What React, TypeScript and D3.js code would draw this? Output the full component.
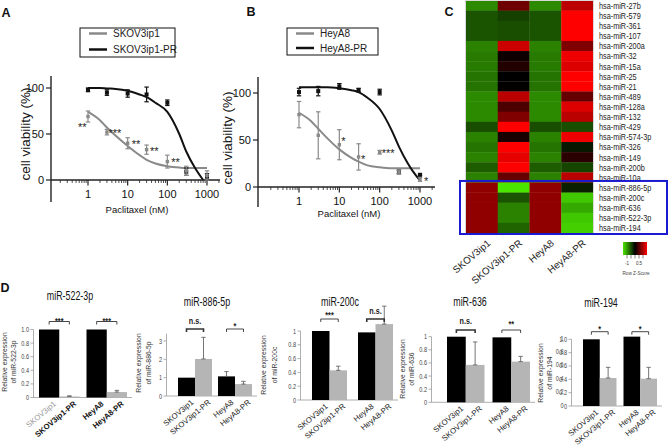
import React from "react";
import * as d3 from "d3";

const FONT = "'Liberation Sans', Arial, Helvetica, sans-serif";

// ---------------- Panels A / B : dose response ----------------
const doses = [1, 3, 10, 30, 100, 300, 1000];
const skovMean = [69, 52, 40, 33, 20, 10, 5];
const skovErr = [6, 3, 6, 5, 7, 5, 5];
const skovPRMean = [98, 95, 94, 93, 84, 9, 4];
const skovPRErr = [2, 3, 4, 8, 3, 4, 3];
const heyMean = [77, 55, 45, 32, 37, 16, 8];
const heyErr = [14, 25, 16, 14, 2, 2, 2];
const heyPRMean = [101, 102, 107, 103, 101, 16, 13];
const heyPRErr = [4, 5, 3, 2, 3, 2, 1];

const fitDoses = [1, 2, 3, 5, 10, 20, 30, 50, 100, 200, 300, 500, 800, 1000];
const skovFit = [74, 65, 57, 48, 37, 27, 22, 18, 15, 13.5, 13, 13, 13, 13];
const skovPRFit = [100, 100, 99.5, 99, 97, 93, 90, 84, 74, 50, 31, 13, 0, NaN];
const heyFit = [79, 70, 62, 52, 40, 31, 27, 23, 21, 20, 20, 20, 20, 20];
const heyPRFit = [106, 106, 106, 106, 105, 103, 101, 95, 83, 60, 43, 25, 12, 7];

const skovStarDoses = [1, 3, 10, 30, 100];
const skovStarValues = [60, 54, 42, 34, 22];
const skovStarText = ["**", "***", "**", "**", "**"];
const heyStarDoses = [10, 30, 100, 1000];
const heyStarValues = [51, 32, 39, 9];
const heyStarText = ["*", "*", "***", "*"];

const viabilityTicks = [0, 50, 100];
const doseTicks = [1, 10, 100, 1000];
const doseTickLabels = ["1", "10", "100", "1000"];

// ---------------- Panel C : heatmap ----------------
const heatSamples = ["SKOV3ip1", "SKOV3ip1-PR", "HeyA8", "HeyA8-PR"];
const mirnas = [
  "hsa-miR-27b", "hsa-miR-579", "hsa-miR-361", "hsa-miR-107", "hsa-miR-200a",
  "hsa-miR-32", "hsa-miR-15a", "hsa-miR-25", "hsa-miR-21", "hsa-miR-489",
  "hsa-miR-128a", "hsa-miR-132", "hsa-miR-429", "hsa-miR-574-3p", "hsa-miR-326",
  "hsa-miR-149", "hsa-miR-200b", "hsa-miR-10a", "hsa-miR-886-5p", "hsa-miR-200c",
  "hsa-miR-636", "hsa-miR-522-3p", "hsa-miR-194",
];
const zSKOV = [-0.9, -0.55, -0.55, -0.55, -0.85, -0.8, -0.8, -0.75, -0.75, -0.9, -0.9, -0.9, -0.5, -0.85, -0.75, -0.85, -0.6, -0.85, 0.85, 0.85, 0.85, 0.85, 0.85];
const zSKOVPR = [0.65, -0.42, -0.5, -0.5, 1.2, 0.08, 0.2, 0.0, 0.02, 1.1, 0.45, 0.75, 1.5, 0.15, 1.5, 1.35, 1.5, 0.6, -1.5, -0.55, -0.85, -0.85, -0.65];
const zHey = [-0.9, -0.55, -0.55, -0.55, -0.85, -0.8, -0.8, -0.75, -0.75, -0.9, -0.9, -0.9, -0.5, -0.85, -0.75, -0.85, -0.6, -0.85, 0.85, 0.85, 0.85, 0.85, 0.85];
const zHeyPR = [1.1, 1.5, 1.5, 1.5, 0.75, 1.4, 1.3, 1.5, 1.5, 0.6, 1.3, 1.1, -0.5, 1.4, -0.15, 0.25, -0.45, 1.1, -0.2, -1.3, -1.1, -1.3, -1.35];
const heatValues = [zSKOV, zSKOVPR, zHey, zHeyPR];
const keyTicks = [-1, -0.5, 0, 0.5, 1];
const keyTickLabels = ["-1", "", "", "0.5", ""];

// ---------------- Panel D : qPCR bars ----------------
const barLabels = ["SKOV3ip1", "SKOV3ip1-PR", "HeyA8", "HeyA8-PR"];
const barGroups = ["SKOV3ip1", "HeyA8"];
const barConditions = ["parental", "PR"];

const mir522Values = [1.0, 0.015, 1.0, 0.08];
const mir522Errors = [0, 0.01, 0, 0.025];
const mir522Sig = ["***", "***"];
const mir886Values = [1.0, 2.02, 1.07, 0.65];
const mir886Errors = [0, 1.18, 0.26, 0.15];
const mir886Sig = ["n.s.", "*"];
const mir200cValues = [1.0, 0.43, 0.98, 1.1];
const mir200cErrors = [0, 0.06, 0, 0.26];
const mir200cSig = ["***", "n.s."];
const mir636Values = [1.0, 0.57, 0.99, 0.62];
const mir636Errors = [0, 0.35, 0, 0.08];
const mir636Sig = ["n.s.", "**"];
const mir194Values = [1.0, 0.42, 1.04, 0.41];
const mir194Errors = [0, 0.16, 0, 0.17];
const mir194Sig = ["*", "*"];

const ticksFrac = [0, 0.2, 0.4, 0.6, 0.8, 1.0];
const ticksFracLabels1 = ["0", "0.2", "0.4", "0.6", "0.8", "1.0"];
const ticksFracLabels2 = ["0", "0.2", "0.4", "0.6", "0.8", "1"];
const ticksInt = [0, 1, 2, 3];
const ticksIntLabels = ["0", "1", "2", "3"];

// ---------------- helpers ----------------
function CT({ x, y, s = 1, children, ...rest }: any) {
  return (
    <text transform={`translate(${x},${y}) scale(${s},1)`} {...rest}>
      {children}
    </text>
  );
}

function ErrBar({ x, yLo, yHi, cap, color, w = 1 }: any) {
  return (
    <g stroke={color} strokeWidth={w}>
      <line x1={x} x2={x} y1={yLo} y2={yHi} />
      <line x1={x - cap} x2={x + cap} y1={yHi} y2={yHi} />
      {yLo !== yHi && <line x1={x - cap} x2={x + cap} y1={yLo} y2={yLo} />}
    </g>
  );
}

function DosePanel({ L, pMean, pErr, rMean, rErr, pFit, rFit, sDoses, sVals, sText, sDx, legend }: any) {
  const x = d3.scaleLog().domain([1, 1000]).range([L.x1, L.x1000]);
  const y = d3.scaleLinear().domain([0, 100]).range([L.y0, L.y100]);
  const line = d3
    .line<[number, number]>()
    .defined((d) => !isNaN(d[1]))
    .x((d) => x(d[0]))
    .y((d) => y(d[1]))
    .curve(d3.curveMonotoneX);
  const minor: number[] = [];
  [0.1, 1, 10, 100, 1000].forEach((dec) => {
    for (let k = 2; k <= 9; k++) {
      const v = dec * k;
      const px = x(v);
      if (px > L.axisLeft + 6 && px < L.axisRight) minor.push(v);
    }
  });
  const grey = "#8a8a8a";
  const pts = (mean: number[], err: number[]) => mean.map((m, i) => [doses[i], m, err[i]]);
  return (
    <g fontFamily={FONT}>
      <line x1={L.axisLeft} x2={L.axisLeft} y1={L.axisTop} y2={L.axisBottom} stroke="#222" strokeWidth={1.4} />
      <line x1={L.axisLeft} x2={L.axisRight} y1={L.y0} y2={L.y0} stroke="#222" strokeWidth={1.4} />
      {viabilityTicks.map((t) => (
        <g key={t}>
          <line x1={L.axisLeft - 5} x2={L.axisLeft} y1={y(t)} y2={y(t)} stroke="#222" strokeWidth={1.2} />
          <text x={L.axisLeft - 7} y={y(t) + 4} fontSize={11} textAnchor="end" fill="#111">
            {t}
          </text>
        </g>
      ))}
      {minor.map((v, i) => (
        <line key={i} x1={x(v)} x2={x(v)} y1={L.y0} y2={L.y0 + 3} stroke="#222" strokeWidth={0.8} />
      ))}
      {doseTicks.map((t, i) => (
        <g key={t}>
          <line x1={x(t)} x2={x(t)} y1={L.y0} y2={L.y0 + 5.5} stroke="#222" strokeWidth={1.2} />
          <text x={x(t)} y={L.y0 + 18} fontSize={11} textAnchor="middle" fill="#111">
            {doseTickLabels[i]}
          </text>
        </g>
      ))}
      <text x={L.xTitleX} y={L.xTitleY} fontSize={9.5} textAnchor="middle" fill="#111">
        Paclitaxel (nM)
      </text>
      <text
        transform={`translate(${L.yTitleX},${L.yTitleY}) rotate(-90)`}
        fontSize={13.5}
        textAnchor="middle"
        fill="#111"
      >
        cell viability (%)
      </text>
      <path d={line(fitDoses.map((d, i) => [d, pFit[i]]) as any) || ""} fill="none" stroke={grey} strokeWidth={2} />
      <path d={line(fitDoses.map((d, i) => [d, rFit[i]]) as any) || ""} fill="none" stroke="#111" strokeWidth={2} />
      {pts(rMean, rErr).map(([d, m, e], i) => (
        <g key={"r" + i}>
          <ErrBar x={x(d)} yLo={y(m - e)} yHi={y(m + e)} cap={2.2} color="#111" w={1.2} />
          <rect x={x(d) - 2} y={y(m) - 2} width={4} height={4} fill="#111" />
        </g>
      ))}
      {pts(pMean, pErr).map(([d, m, e], i) => (
        <g key={"p" + i}>
          <ErrBar x={x(d)} yLo={y(m - e)} yHi={y(m + e)} cap={2.2} color={grey} w={1.2} />
          <rect x={x(d) - 1.7} y={y(m) - 1.7} width={3.4} height={3.4} fill={grey} />
        </g>
      ))}
      {sDoses.map((d: number, i: number) => (
        <text
          key={"s" + i}
          x={x(d) + sDx[i]}
          y={y(sVals[i]) + 6.3}
          fontSize={11}
          textAnchor={sDx[i] < 0 ? "end" : "start"}
          fill="#222"
        >
          {sText[i]}
        </text>
      ))}
      <rect x={L.lgX} y={L.lgY} width={L.lgW} height={L.lgH} fill="white" stroke="#111" strokeWidth={1} />
      <line x1={L.lgX + 9} x2={L.lgX + 27} y1={L.lgY + 5.5} y2={L.lgY + 5.5} stroke={grey} strokeWidth={2.5} />
      <text x={L.lgX + 33} y={L.lgY + 9} fontSize={10} fill="#222">
        {legend[0]}
      </text>
      <line x1={L.lgX + 9} x2={L.lgX + 27} y1={L.lgY + L.lgGap} y2={L.lgY + L.lgGap} stroke="#111" strokeWidth={2.5} />
      <text x={L.lgX + 33} y={L.lgY + L.lgGap + 3.5} fontSize={10} fill="#222">
        {legend[1]}
      </text>
    </g>
  );
}

function Heatmap() {
  const hx = d3.scaleBand().domain(heatSamples).range([466, 593]);
  const hy = d3.scaleBand().domain(mirnas).range([0.5, 233]);
  const color = d3.scaleLinear<string>().domain([-1.5, 0, 1.5]).range(["#4ae600", "#000000", "#ff0000"]);
  const kx = d3.scaleLinear().domain([-1.5, 1.5]).range([623, 647]);
  const boxTop = (hy(mirnas[18]) as number) - 1.5;
  return (
    <g fontFamily={FONT}>
      <defs>
        <linearGradient id="keyGrad" x1="0" x2="1" y1="0" y2="0">
          <stop offset="0" stopColor={color(-1.5)} />
          <stop offset="0.5" stopColor={color(0)} />
          <stop offset="1" stopColor={color(1.5)} />
        </linearGradient>
      </defs>
      {heatSamples.map((s, c) =>
        mirnas.map((m, r) => (
          <rect
            key={s + m}
            x={hx(s)}
            y={hy(m)}
            width={hx.bandwidth() + 0.3}
            height={hy.bandwidth() + 0.3}
            fill={color(heatValues[c][r])}
          />
        ))
      )}
      <rect x={465.5} y={0.5} width={128} height={233} fill="none" stroke="#d8d8d8" strokeWidth={1} />
      {mirnas.map((m) => (
        <CT key={m} x={599} y={(hy(m) as number) + hy.bandwidth() / 2 + 3.4} s={0.76} fontSize={9.6} fill="#222">
          {m}
        </CT>
      ))}
      <rect x={460} y={boxTop} width={207} height={234 - boxTop} fill="none" stroke="#1a1ad0" strokeWidth={2} />
      {heatSamples.map((s) => (
        <text
          key={s}
          transform={`translate(${(hx(s) as number) + hx.bandwidth() / 2 + 5},${239}) rotate(-40)`}
          fontSize={9.8}
          textAnchor="end"
          dy="0.7em"
          fill="#222"
        >
          {s}
        </text>
      ))}
      <rect x={kx(-1.5)} y={242} width={kx(1.5) - kx(-1.5)} height={13} fill="url(#keyGrad)" />
      {keyTicks.map((t, i) => (
        <g key={t}>
          <line x1={kx(t)} x2={kx(t)} y1={255} y2={258.5} stroke="#333" strokeWidth={0.6} />
          {keyTickLabels[i] && (
            <CT x={kx(t)} y={265} s={0.8} fontSize={5.5} textAnchor="middle" fill="#333">
              {keyTickLabels[i]}
            </CT>
          )}
        </g>
      ))}
      <CT x={636} y={274.5} s={0.8} fontSize={5.8} textAnchor="middle" fill="#444">
        Row Z-Score
      </CT>
    </g>
  );
}

function BarPanel({ cfg }: any) {
  const y = d3.scaleLinear().domain([0, cfg.tmax]).range([cfg.y0, cfg.yTop]);
  const width = cfg.barR - cfg.barL;
  const pad = (2 * cfg.gap) / (width + cfg.gap);
  const gx = d3.scaleBand().domain(barGroups).range([cfg.barL, cfg.barR]).paddingInner(pad);
  const cx = d3.scaleBand().domain(barConditions).range([0, gx.bandwidth()]);
  const bw = cx.bandwidth();
  const barX = (i: number) => (gx(barGroups[Math.floor(i / 2)]) as number) + (cx(barConditions[i % 2]) as number);
  const axisCol = "#9a9a9a";
  const ticks: number[] = cfg.ticks;
  return (
    <g fontFamily={FONT}>
      <CT x={cfg.tx} y={cfg.ty} s={0.74} fontSize={12} textAnchor="middle" fill="#111">
        {cfg.title}
      </CT>
      <line x1={cfg.axisX} x2={cfg.axisX} y1={cfg.y0} y2={y(cfg.axisMax)} stroke={axisCol} strokeWidth={0.8} />
      <line x1={cfg.axisX} x2={cfg.barR + 5} y1={cfg.y0} y2={cfg.y0} stroke={axisCol} strokeWidth={0.8} />
      {ticks.map((t, i) => (
        <g key={t}>
          <line x1={cfg.axisX - 3} x2={cfg.axisX} y1={y(t)} y2={y(t)} stroke={axisCol} strokeWidth={0.8} />
          <CT x={cfg.axisX - 4.5} y={y(t) + 2.5} s={0.75} fontSize={7.4} textAnchor="end" fill="#444">
            {cfg.tickLabels[i]}
          </CT>
          {cfg.tickLabelsB && (
            <CT x={cfg.axisX - 8} y={y(t) + 1.5} s={0.75} fontSize={7.4} textAnchor="end" fill="#444">
              {cfg.tickLabelsB[i]}
            </CT>
          )}
        </g>
      ))}
      {cfg.values.map((v: number, i: number) => {
        const x0 = barX(i);
        const e = cfg.errors[i];
        return (
          <g key={i}>
            <rect x={x0} y={y(v)} width={bw} height={cfg.y0 - y(v)} fill={i % 2 === 0 ? "#000" : "#b5b5b5"} />
            {e > 0 && <ErrBar x={x0 + bw / 2} yLo={y(v)} yHi={y(v + e)} cap={2.2} color="#666" w={0.9} />}
          </g>
        );
      })}
      {[0, 1].map((g) => {
        const xa = barX(2 * g) + bw / 2;
        const xb = barX(2 * g + 1) + bw / 2;
        const s = cfg.sig[g];
        const ns = s === "n.s.";
        const by = cfg.bracketY;
        return (
          <g key={g}>
            <path d={`M${xa},${by + 3}V${by}H${xb}V${by + 3}`} fill="none" stroke="#333" strokeWidth={ns ? 1.6 : 0.9} />
            <CT
              x={(xa + xb) / 2}
              y={by - cfg.sigDy[g] + (ns ? 2.2 : 5.2)}
              s={0.8}
              fontSize={9}
              fontWeight="bold"
              textAnchor="middle"
              fill="#222"
            >
              {s}
            </CT>
          </g>
        );
      })}
      {barLabels.map((lab, i) => (
        <text
          key={lab}
          transform={`translate(${barX(i) + bw / 2 + 4},${cfg.y0 + 3}) rotate(-40)`}
          fontSize={7.8}
          textAnchor="end"
          dy="0.7em"
          fill={cfg.labelColors ? cfg.labelColors[i] : "#222"}
          fontWeight={cfg.labelWeights ? cfg.labelWeights[i] : "normal"}
        >
          {lab}
        </text>
      ))}
      {cfg.yTitle.map((t: string, i: number) => (
        <text
          key={i}
          transform={`translate(${cfg.yTitleX[i]},${cfg.yTitleCY}) rotate(-90)`}
          fontSize={6.8}
          textAnchor="middle"
          fill="#333"
        >
          {t}
        </text>
      ))}
    </g>
  );
}

const layoutA = {
  x1: 88, x1000: 207, y0: 180, y100: 88, axisLeft: 51, axisRight: 220, axisTop: 76, axisBottom: 202,
  xTitleX: 137, xTitleY: 213, yTitleX: 30, yTitleY: 134,
  lgX: 80, lgY: 28, lgW: 95, lgH: 29, lgGap: 21.5,
};
const layoutB = {
  x1: 299, x1000: 420, y0: 187, y100: 93, axisLeft: 258, axisRight: 435, axisTop: 77, axisBottom: 207,
  xTitleX: 349, xTitleY: 217, yTitleX: 232, yTitleY: 138,
  lgX: 287, lgY: 28, lgW: 91, lgH: 27, lgGap: 20,
};

const dConfigs = [
  {
    title: "miR-522-3p", tx: 70, ty: 300, axisX: 33.5, y0: 397.5, yTop: 329.5, tmax: 1, axisMax: 1,
    barL: 39, barR: 127, gap: 7, bracketY: 321.5, sigDy: [2.5, 2.5],
    values: mir522Values, errors: mir522Errors, sig: mir522Sig,
    ticks: ticksFrac, tickLabels: ticksFracLabels1,
    yTitle: ["Relative expression", "of miR-522-3p"], yTitleX: [7, 16], yTitleCY: 362,
    labelColors: ["#9a9a9a", "#111", "#111", "#111"], labelWeights: ["normal", "bold", "bold", "bold"],
  },
  {
    title: "miR-886-5p", tx: 207, ty: 306, axisX: 166.5, y0: 396, yTop: 341, tmax: 3, axisMax: 3.4,
    barL: 178, barR: 252, gap: 6, bracketY: 329, sigDy: [7, 5.7],
    values: mir886Values, errors: mir886Errors, sig: mir886Sig,
    ticks: ticksInt, tickLabels: ticksIntLabels,
    yTitle: ["Relative expression", "of miR-886-5p"], yTitleX: [141, 151], yTitleCY: 363,
  },
  {
    title: "miR-200c", tx: 340, ty: 306, axisX: 300.5, y0: 400, yTop: 331, tmax: 1, axisMax: 1,
    barL: 312, barR: 393, gap: 11, bracketY: 319, sigDy: [6, 7],
    values: mir200cValues, errors: mir200cErrors, sig: mir200cSig,
    ticks: ticksFrac, tickLabels: ticksFracLabels2,
    yTitle: ["Relative expression", "of miR-200c"], yTitleX: [266, 277], yTitleCY: 365,
  },
  {
    title: "miR-636", tx: 470, ty: 306, axisX: 431.5, y0: 402.3, yTop: 336.7, tmax: 1, axisMax: 1,
    barL: 447, barR: 530, gap: 8, bracketY: 330, sigDy: [8, 8],
    values: mir636Values, errors: mir636Errors, sig: mir636Sig,
    ticks: ticksFrac, tickLabels: ticksFracLabels2,
    yTitle: ["Relative expression", "of miR-636"], yTitleX: [405, 414], yTitleCY: 369,
  },
  {
    title: "miR-194", tx: 601, ty: 307, axisX: 571.5, y0: 406, yTop: 339.3, tmax: 1, axisMax: 1,
    barL: 583, barR: 657, gap: 7, bracketY: 331.7, sigDy: [4.7, 4.7],
    values: mir194Values, errors: mir194Errors, sig: mir194Sig,
    ticks: ticksFrac, tickLabels: ticksFracLabels1, tickLabelsB: ticksFracLabels2,
    yTitle: ["Relative expression", "of miR-194"], yTitleX: [543, 552], yTitleCY: 373,
  },
];

export default function App() {
  return (
    <svg width={668} height={446} viewBox="0 0 668 446" style={{ position: "absolute", left: 0, top: 0, background: "#fff" }}>
      <rect x={0} y={0} width={668} height={446} fill="#fff" />
      <DosePanel
        L={layoutA}
        pMean={skovMean} pErr={skovErr} rMean={skovPRMean} rErr={skovPRErr}
        pFit={skovFit} rFit={skovPRFit}
        sDoses={skovStarDoses} sVals={skovStarValues} sText={skovStarText} sDx={[-1.5, 1.5, 4, 3.5, 4]}
        legend={["SKOV3ip1", "SKOV3ip1-PR"]}
      />
      <DosePanel
        L={layoutB}
        pMean={heyMean} pErr={heyErr} rMean={heyPRMean} rErr={heyPRErr}
        pFit={heyFit} rFit={heyPRFit}
        sDoses={heyStarDoses} sVals={heyStarValues} sText={heyStarText} sDx={[2, 2.5, 2, 4]}
        legend={["HeyA8", "HeyA8-PR"]}
      />
      <Heatmap />
      {dConfigs.map((c) => (
        <BarPanel key={c.title} cfg={c} />
      ))}
      <g fontFamily={FONT} fontWeight="bold" fontSize={12.5} fill="#111">
        <text x={1.5} y={17}>A</text>
        <text x={246.5} y={15.5}>B</text>
        <text x={444.5} y={15.5}>C</text>
        <text x={0.5} y={292}>D</text>
      </g>
    </svg>
  );
}
